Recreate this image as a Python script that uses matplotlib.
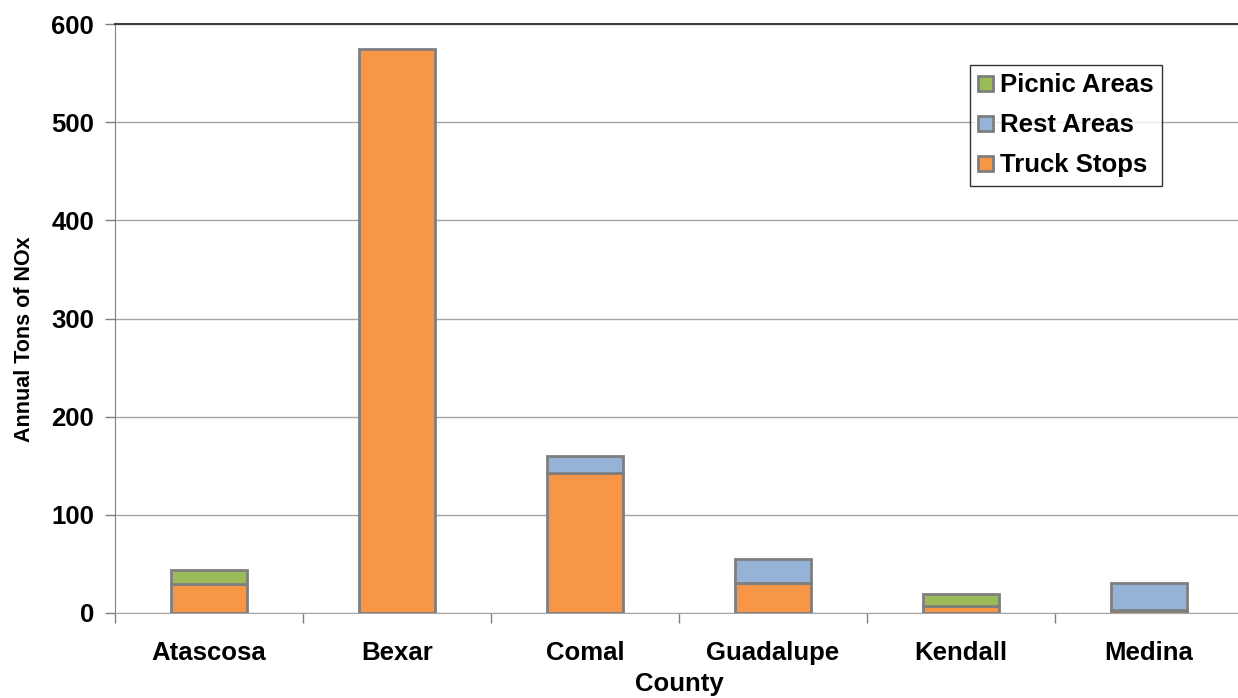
import matplotlib
matplotlib.use("Agg")
import matplotlib.pyplot as plt
from matplotlib.patches import Patch
import numpy as np

plt.rcParams['font.family'] = ['Liberation Sans', 'DejaVu Sans']

counties = ["Atascosa", "Bexar", "Comal", "Guadalupe", "Kendall", "Medina"]
truck_stops = [30, 575, 143, 31, 7, 3]
rest_areas = [0, 0, 17, 24, 0, 28]
picnic_areas = [14, 0, 0, 0, 12, 0]
yticks = [0, 100, 200, 300, 400, 500, 600]

c_truck = "#F79646"
c_rest = "#95B3D7"
c_picnic = "#9BBB59"
edge = "#7F7F7F"

fig = plt.figure(figsize=(12.38, 6.98), dpi=100)
ax = fig.add_axes([115/1238, 85/698, 1128/1238, 589/698])

x = np.arange(len(counties))
w = 0.4
truck = np.array(truck_stops)
rest = np.array(rest_areas)
picnic = np.array(picnic_areas)

b1 = ax.bar(x, truck, w, color=c_truck, edgecolor=edge, linewidth=2, zorder=3)
b2 = ax.bar(x, rest, w, bottom=truck, color=c_rest, edgecolor=edge, linewidth=2, zorder=3)
b3 = ax.bar(x, picnic, w, bottom=truck + rest, color=c_picnic, edgecolor=edge, linewidth=2, zorder=3)
for bars, vals in ((b2, rest), (b3, picnic)):
    for b, v in zip(bars, vals):
        if v == 0:
            b.set_visible(False)

ax.set_xlim(-0.5, len(counties) - 0.5)
ax.set_ylim(0, 600)
ax.set_yticks(yticks)
ax.set_yticklabels([str(t) for t in yticks], fontsize=18.5, fontweight='bold')
ax.set_xticks(x)
ax.set_xticklabels(counties, fontsize=18.5, fontweight='bold')
ax.tick_params(axis='x', length=0, pad=20)
ax.set_xticks(np.arange(len(counties) + 1) - 0.5, minor=True)
ax.tick_params(axis='x', which='minor', length=7, color=edge, width=1)
ax.tick_params(axis='y', length=7, color=edge, width=1, pad=8)

ax.grid(axis='y', color='#A6A6A6', linewidth=1, zorder=0)
ax.set_axisbelow(True)
ax.spines['right'].set_visible(False)
ax.spines['left'].set_color(edge)
ax.spines['bottom'].set_color('#A6A6A6')
ax.spines['top'].set_color('#404040')
ax.spines['top'].set_linewidth(1.5)

ax.set_ylabel("Annual Tons of NOx", fontsize=15.5, fontweight='bold')
ax.yaxis.set_label_coords(-0.0705, 0.465)
ax.set_xlabel("County", fontsize=18.5, fontweight='bold', labelpad=5)

handles = [Patch(facecolor=c_picnic, edgecolor=edge, linewidth=2),
           Patch(facecolor=c_rest, edgecolor=edge, linewidth=2),
           Patch(facecolor=c_truck, edgecolor=edge, linewidth=2)]
leg = ax.legend(handles, ["Picnic Areas", "Rest Areas", "Truck Stops"],
                loc='upper left', bbox_to_anchor=(855/1128, 1 - 41/589),
                prop={'size': 18.5, 'weight': 'bold'}, frameon=True, fancybox=False,
                edgecolor='black', handlelength=0.55, handleheight=0.55,
                handletextpad=0.3, labelspacing=0.62, borderpad=0.33, borderaxespad=0)
leg.get_frame().set_linewidth(1)

fig.savefig("out.png", dpi=100)
